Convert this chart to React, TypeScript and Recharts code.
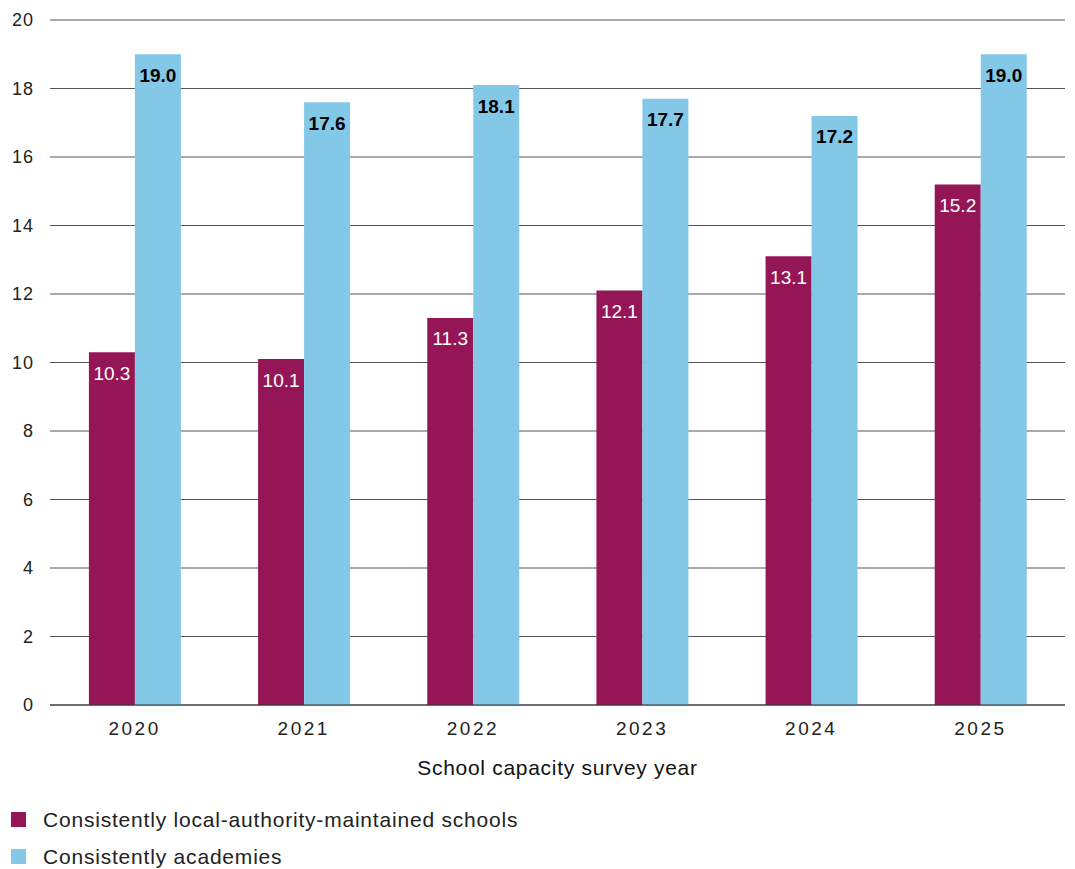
import React from 'react';
import { BarChart, Bar, XAxis, YAxis, CartesianGrid, LabelList } from 'recharts';

const years = ['2020', '2021', '2022', '2023', '2024', '2025'];
const laMaintained = [10.3, 10.1, 11.3, 12.1, 13.1, 15.2];
const academies = [19.0, 17.6, 18.1, 17.7, 17.2, 19.0];
const yTicks = [0, 2, 4, 6, 8, 10, 12, 14, 16, 18, 20];
const seriesNames = ['Consistently local-authority-maintained schools', 'Consistently academies'];
const colors = ['#951656', '#84C8E8'];

const data = years.map((y, i) => ({ year: y, la: laMaintained[i], ac: academies[i] }));

const FONT = '"Liberation Sans", Arial, sans-serif';

export default function App() {
  return (
    <div style={{ position: 'absolute', left: 0, top: 0, width: 1075, height: 869, background: '#fff', fontFamily: FONT }}>
      <BarChart
        width={1075}
        height={869}
        data={data}
        margin={{ top: 20, right: 10, left: 0, bottom: 124 }}
        barCategoryGap="23%"
        barGap={0}
      >
        <CartesianGrid vertical={false} stroke="#555" strokeWidth={1} />
        <XAxis
          dataKey="year"
          height={40}
          tickLine={false}
          axisLine={{ stroke: '#333', strokeWidth: 1 }}
          tickSize={0}
          tickMargin={17}
          tick={{ fill: '#222', fontSize: 19, fontFamily: FONT, letterSpacing: 2.5 }}
          label={{ value: 'School capacity survey year', position: 'bottom', offset: 15, fill: '#111', fontSize: 21, fontFamily: FONT, letterSpacing: 0.7 }}
        />
        <YAxis
          width={50}
          domain={[0, 20]}
          ticks={yTicks}
          tickLine={false}
          axisLine={false}
          tickSize={0}
          tickMargin={16}
          tick={{ fill: '#222', fontSize: 18, fontFamily: FONT, letterSpacing: 1 }}
        />
        <Bar dataKey="la" name={seriesNames[0]} fill={colors[0]} isAnimationActive={false}>
          <LabelList dataKey="la" position="insideTop" offset={14} fill="#fff" fontSize={19} fontFamily={FONT} formatter={(v: number) => v.toFixed(1)} />
        </Bar>
        <Bar dataKey="ac" name={seriesNames[1]} fill={colors[1]} isAnimationActive={false}>
          <LabelList dataKey="ac" position="insideTop" offset={14} fill="#000" fontSize={19} fontWeight="bold" fontFamily={FONT} formatter={(v: number) => v.toFixed(1)} />
        </Bar>
      </BarChart>
      <div style={{ position: 'absolute', left: 11, top: 801, fontFamily: FONT, fontSize: 21, letterSpacing: 0.8, color: '#222' }}>
        {seriesNames.map((n, i) => (
          <div key={n} style={{ display: 'flex', alignItems: 'center', height: 37 }}>
            <span style={{ display: 'inline-block', width: 15, height: 15, background: colors[i], marginRight: 17 }} />
            <span>{n}</span>
          </div>
        ))}
      </div>
    </div>
  );
}
